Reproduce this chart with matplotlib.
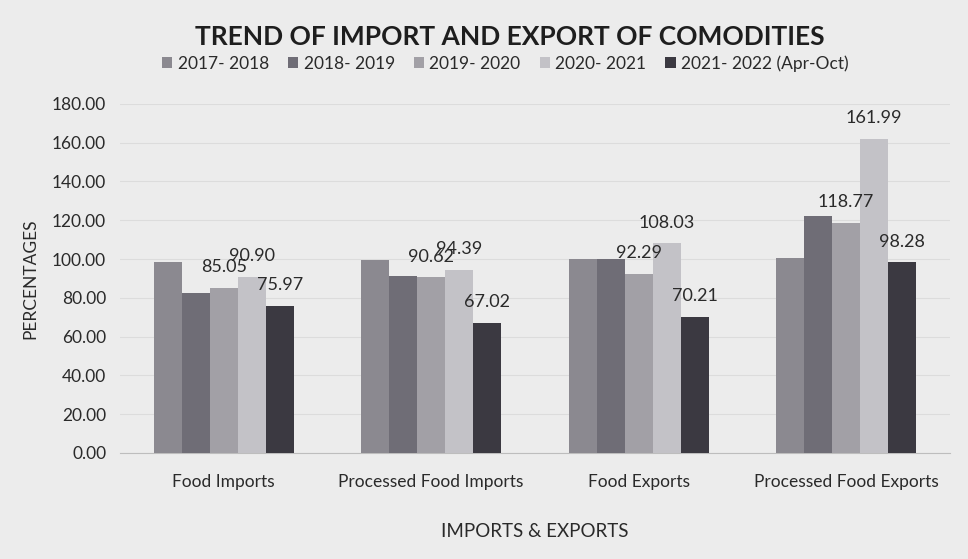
import matplotlib
matplotlib.use("Agg")
import matplotlib.pyplot as plt
import numpy as np

categories = ["Food Imports", "Processed Food Imports", "Food Exports", "Processed Food Exports"]
series_names = ["2017- 2018", "2018- 2019", "2019- 2020", "2020- 2021", "2021- 2022 (Apr-Oct)"]
v2017 = [98.6, 99.6, 100.2, 100.5]
v2018 = [82.6, 91.2, 100.1, 122.0]
v2019 = [85.05, 90.62, 92.29, 118.77]
v2020 = [90.90, 94.39, 108.03, 161.99]
v2021 = [75.97, 67.02, 70.21, 98.28]
values = [v2017, v2018, v2019, v2020, v2021]
labeled = [False, False, True, True, True]
colors = ["#8b8990", "#6f6d76", "#a2a0a6", "#c3c2c7", "#3b3941"]
yticks = [0, 20, 40, 60, 80, 100, 120, 140, 160, 180]

plt.rcParams['font.family'] = ['Lato', 'DejaVu Sans']
bg = "#ececec"
fig = plt.figure(figsize=(9.68, 5.59), dpi=100, facecolor=bg)
ax = fig.add_axes([0.124, 0.19, 0.857, 0.624], facecolor=bg)

x = np.arange(len(categories))
w = 0.135
for i, (vals, c) in enumerate(zip(values, colors)):
    pos = x + (i - 2) * w
    bars = ax.bar(pos, vals, width=w, color=c, label=series_names[i], zorder=3)
    if labeled[i]:
        for b, v in zip(bars, vals):
            ax.annotate(f"{v:.2f}", (b.get_x() + b.get_width() / 2, v),
                        xytext=(0, 9), textcoords="offset points",
                        ha="center", va="bottom", fontsize=13, color="#2a2a2a", zorder=4)

ax.set_xlim(-0.5, 3.5)
ax.set_ylim(0, 180)
ax.set_yticks(yticks)
ax.set_yticklabels([f"{t:.2f}" for t in yticks], fontsize=12.5, color="#2a2a2a")
ax.set_xticks(x)
ax.set_xticklabels(categories, fontsize=12.5, color="#2a2a2a")
ax.tick_params(axis='both', length=0)
ax.tick_params(axis='y', pad=10)
ax.tick_params(axis='x', pad=15)
ax.grid(axis='y', color="#dcdcdc", linewidth=0.8, zorder=0)
for s in ["top", "right", "left"]:
    ax.spines[s].set_visible(False)
ax.spines["bottom"].set_color("#bdbdbd")
ax.set_ylabel("PERCENTAGES", fontsize=12.5, color="#2a2a2a", labelpad=10)
ax.set_xlabel("IMPORTS & EXPORTS", fontsize=13.5, color="#2a2a2a", labelpad=24)

fig.text(0.527, 0.933, "TREND OF IMPORT AND EXPORT OF COMODITIES", ha="center", va="center",
         fontsize=19, fontweight="bold", color="#1e1e1e")
leg = fig.legend(loc="center", bbox_to_anchor=(0.522, 0.886), ncol=5, frameon=False,
                 fontsize=12.5, handlelength=0.6, handleheight=0.6, handletextpad=0.3,
                 columnspacing=1.1, labelcolor="#2a2a2a")

fig.savefig("out.png", dpi=100, facecolor=bg)
